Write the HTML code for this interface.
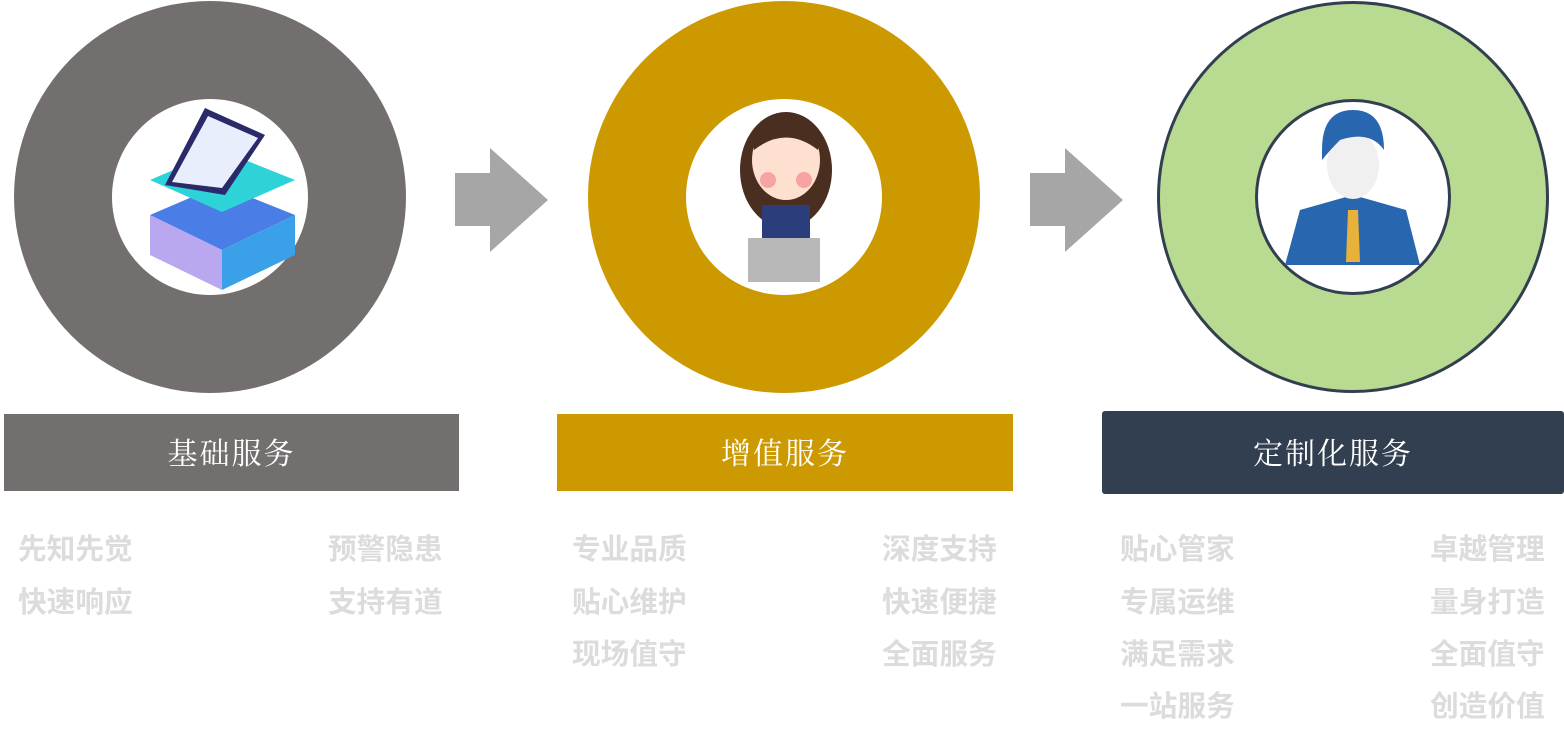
<!DOCTYPE html>
<html><head><meta charset="utf-8"><style>
body{margin:0;width:1564px;height:741px;background:#fff;position:relative;overflow:hidden;font-family:"Liberation Sans","Noto Sans CJK SC",sans-serif}
.c{position:absolute;border-radius:50%;box-sizing:border-box}
.bar{position:absolute;color:#fff;font-size:30px;display:flex;align-items:center;justify-content:center;letter-spacing:2px;font-family:"Liberation Serif","Noto Serif CJK SC",serif;padding-bottom:4px;box-sizing:border-box}
.t{position:absolute;font-size:28.7px;font-weight:bold;color:#dcdcdc;line-height:28px;white-space:nowrap}
</style></head><body>
<div class="c" style="left:14px;top:1px;width:392px;height:392px;background:#736f6e"></div>
<div class="c" style="left:112px;top:99px;width:196px;height:196px;background:#fff"></div>
<div class="c" style="left:588px;top:1px;width:392px;height:392px;background:#cc9a00"></div>
<div class="c" style="left:686px;top:99px;width:196px;height:196px;background:#fff"></div>
<div class="c" style="left:1157px;top:1px;width:392px;height:392px;background:#b9da91;border:3px solid #323f50"></div>
<div class="c" style="left:1255px;top:99px;width:196px;height:196px;background:#fff;border:3px solid #323f50"></div>
<svg style="position:absolute;left:0;top:0" width="1564" height="400">
<polygon points="455,173 490,173 490,148 548,200 490,252 490,226 455,226" fill="#a6a6a6"/>
<polygon points="1030,173 1065,173 1065,148 1123,200 1065,252 1065,226 1030,226" fill="#a6a6a6"/>
<polygon points="150,215 220,185 295,215 222,250" fill="#4a7de6"/>
<polygon points="150,215 222,250 222,290 150,255" fill="#b9a8f0"/>
<polygon points="222,250 295,215 295,255 222,290" fill="#3aa0e8"/>
<polygon points="150,180 220,150 295,180 222,212" fill="#2ed3d8"/>
<polygon points="165,185 205,108 265,135 225,195" fill="#2a2a6a"/>
<polygon points="172,182 208,116 258,138 222,188" fill="#e8eefc"/>
<ellipse cx="786" cy="170" rx="46" ry="58" fill="#4a2e20"/>
<ellipse cx="786" cy="160" rx="34" ry="40" fill="#fde0d0"/>
<circle cx="768" cy="180" r="8" fill="#f7a3a3"/><circle cx="804" cy="180" r="8" fill="#f7a3a3"/>
<path d="M752 135 Q786 100 820 135 L818 150 Q786 125 754 150Z" fill="#4a2e20"/>
<rect x="762" y="205" width="48" height="40" fill="#2b3d7a"/>
<rect x="748" y="238" width="72" height="44" fill="#b8b8b8"/>
<polygon points="1285,265 1300,210 1353,195 1406,210 1420,265" fill="#2966b0"/>
<ellipse cx="1353" cy="165" rx="26" ry="34" fill="#f0f0f0"/>
<path d="M1322 150 Q1322 110 1353 110 Q1384 110 1384 150 Q1370 130 1340 140 Q1330 150 1322 160Z" fill="#2966b0"/>
<polygon points="1348,210 1358,210 1360,262 1346,262" fill="#e8b23a"/>
</svg>
<div class="bar" style="left:4px;top:414px;width:455px;height:77px;background:#736f6e">基础服务</div>
<div class="bar" style="left:557px;top:414px;width:456px;height:77px;background:#cc9a00">增值服务</div>
<div class="bar" style="left:1102px;top:411px;width:462px;height:83px;background:#323f50;border-radius:3px">定制化服务</div>
<div class="t" style="left:18px;top:536px">先知先觉</div>
<div class="t" style="left:18px;top:589px">快速响应</div>
<div class="t" style="left:328px;top:536px">预警隐患</div>
<div class="t" style="left:328px;top:589px">支持有道</div>
<div class="t" style="left:572px;top:536px">专业品质</div>
<div class="t" style="left:572px;top:589px">贴心维护</div>
<div class="t" style="left:572px;top:641px">现场值守</div>
<div class="t" style="left:882px;top:536px">深度支持</div>
<div class="t" style="left:882px;top:589px">快速便捷</div>
<div class="t" style="left:882px;top:641px">全面服务</div>
<div class="t" style="left:1120px;top:536px">贴心管家</div>
<div class="t" style="left:1120px;top:589px">专属运维</div>
<div class="t" style="left:1120px;top:641px">满足需求</div>
<div class="t" style="left:1120px;top:693px">一站服务</div>
<div class="t" style="left:1430px;top:536px">卓越管理</div>
<div class="t" style="left:1430px;top:589px">量身打造</div>
<div class="t" style="left:1430px;top:641px">全面值守</div>
<div class="t" style="left:1430px;top:693px">创造价值</div>
</body></html>
